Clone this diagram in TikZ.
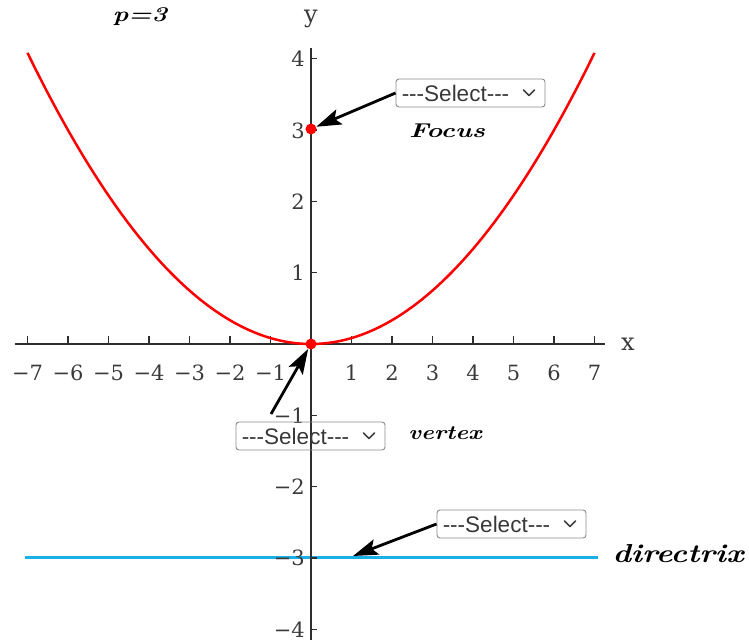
\documentclass[tikz,border=0pt]{standalone}
\usepackage{fontspec}
\newfontfamily\uisans{Liberation Sans}
\newfontfamily\axfont{DejaVu Serif}
\usetikzlibrary{arrows.meta,calc}
\definecolor{axisgray}{HTML}{2E2E2E}
\definecolor{labgray}{HTML}{3A3A3A}
\definecolor{dirblue}{HTML}{1AAFE6}
\definecolor{boxgray}{HTML}{8A8A8A}
\tikzset{
  axisline/.style={axisgray,line width=1.5pt},
  ticklab/.style={text=labgray,font=\axfont\fontsize{21}{23}\selectfont,inner sep=0pt},
  selbox/.style={draw=boxgray,line width=0.9pt,rounded corners=3pt,minimum width=149pt,minimum height=28pt,inner sep=0pt},
  seltext/.style={text=black!78,font=\uisans\fontsize{22.5}{24}\selectfont,anchor=west,inner sep=0pt},
  chev/.style={black!75,line width=1.7pt,line cap=round,line join=round},
  ptr/.style={black,line width=2.8pt,-{Stealth[length=25pt,width=16pt,inset=5pt]}},
  hand/.style={inner sep=0pt},
  dotpt/.style={circle,fill=red,inner sep=0pt,minimum size=11pt}
}
\begin{document}
\begin{tikzpicture}[x=1pt,y=-1pt]
\useasboundingbox (0,0) rectangle (749,644);
% directrix
\draw[dirblue,line width=3pt] (25,557) -- (598,557);
% axes
\draw[axisline] (15,344) -- (605,344);
\draw[axisline] (311,48) -- (311,640);
\foreach \k in {-7,...,7}{
  \ifnum\k=0\else
  \draw[axisline,line width=1.2pt] ({311+40.5*\k},344) -- ({311+40.5*\k},336);
  \fi}
\foreach \k/\lab in {-7/−7,-6/−6,-5/−5,-4/−4,-3/−3,-2/−2,-1/−1,1/1,2/2,3/3,4/4,5/5,6/6,7/7}{
  \node[ticklab,anchor=base] at ({311+40.5*\k},380) {\lab};}
\foreach \k in {4,3,2,1,-1,-2,-3,-4}{
  \draw[axisline,line width=1.2pt] (311,{344-71.3*\k}) -- (317,{344-71.3*\k});}
\foreach \k/\lab in {4/4,3/3,2/2,1/1,-1/−1,-2/−2,-3/−3,-4/−4}{
  \node[ticklab,anchor=base east] at (305,{344-71.3*\k+8}) {\lab};}
\node[ticklab,font=\axfont\fontsize{24}{26}\selectfont] (xl) at (628,344) {x};
\node[ticklab,font=\axfont\fontsize{24}{26}\selectfont] (yl) at (311,19) {y};
% parabola y = x^2/12
\draw[red,line width=2.5pt,domain=-7:7,samples=120,smooth,variable=\t]
  plot ({311+40.5*\t},{344-71.3*\t*\t/12});
\node[dotpt] (F) at (311,129) {};
\node[dotpt] (V) at (311,344) {};
% select boxes
\node[selbox] (fbox) at (470.5,93) {};
\node[selbox] (vbox) at (310.5,436) {};
\node[selbox] (dbox) at (511.5,524) {};
\foreach \b in {fbox,vbox,dbox}{
  \node[seltext] at ($(\b.west)+(6,0)$) {---Select---};
  \draw[chev] ($(\b.east)+(-22,-3)$) -- ($(\b.east)+(-16.5,2.5)$) -- ($(\b.east)+(-11,-3)$);
}
% pointers
\coordinate (vstart) at (271,414);
\coordinate (dend) at (353,556);
\draw[ptr] (fbox.west) -- (F);
\draw[ptr] (vstart) -- (V);
\draw[ptr] (dbox.west) -- (dend);
% handwritten labels
\node[hand,font=\bfseries\itshape\fontsize{21}{22}\selectfont] (plab) at (140,17) {\scalebox{1.25}[1]{p=3}};
\node[hand,font=\bfseries\itshape\fontsize{20}{22}\selectfont] (flab) at (447,131) {\scalebox{1.35}[1]{Focus}};
\node[hand,font=\bfseries\itshape\fontsize{20}{22}\selectfont] (vlab) at (445,433) {\scalebox{1.2}[1]{vertex}};
\node[hand,font=\bfseries\itshape\fontsize{26}{28}\selectfont] (dlab) at (678,554) {\scalebox{1.2}[1]{directrix}};
\end{tikzpicture}
\end{document}
